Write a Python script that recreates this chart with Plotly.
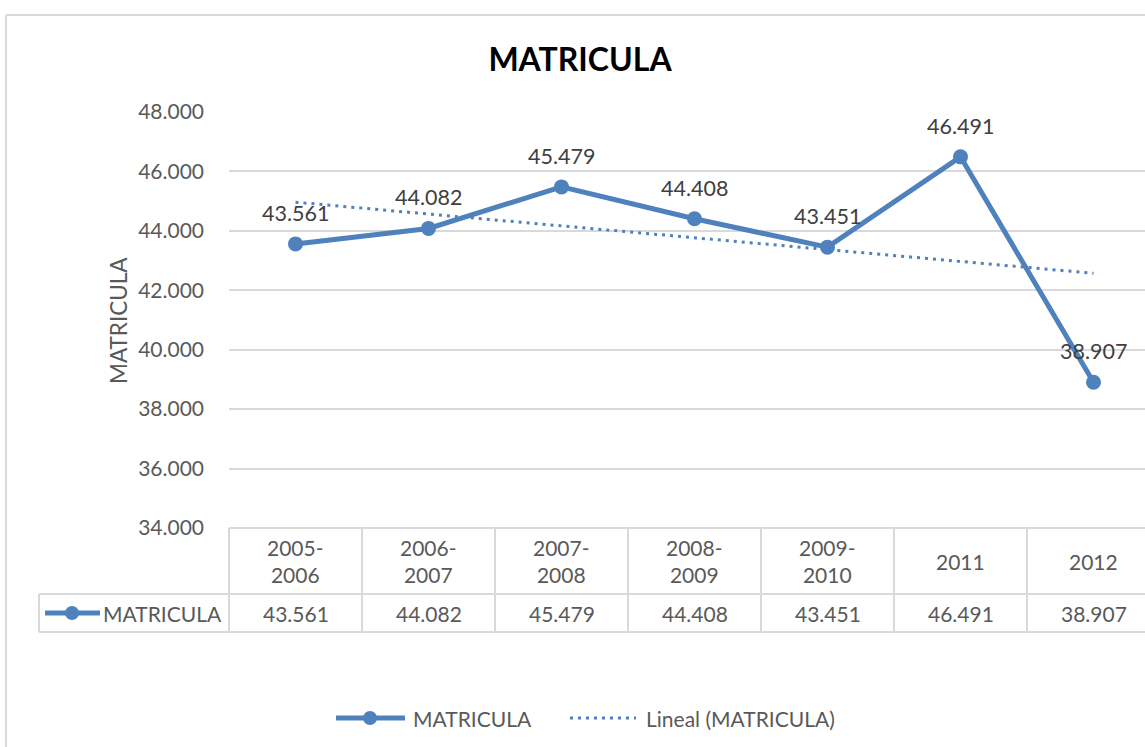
import numpy as np
import plotly.graph_objects as go

categories = ["2005-2006", "2006-2007", "2007-2008", "2008-2009", "2009-2010", "2011", "2012"]
matricula = [43561, 44082, 45479, 44408, 43451, 46491, 38907]
y_ticks = [34000, 36000, 38000, 40000, 42000, 44000, 46000, 48000]
series_name = "MATRICULA"
trend_name = "Lineal (MATRICULA)"

FONT = "Lato"
BLUE = "#4f81bd"
GRID = "#d9d9d9"
TXT = "#595959"
TREND_DASH = "3px,5px"

def fmt(v):
    return f"{v:,}".replace(",", ".")

# layout geometry (pixels)
W, H = 1145, 747
L, R, T, B = 229, 0, 112, 219
PW, PH = W - L - R, H - T - B

def px(xp):  # pixel x -> paper
    return (xp - L) / PW

def py(yp):  # pixel y -> paper
    return (H - B - yp) / PH

idx = np.arange(len(matricula))
slope, intercept = np.polyfit(idx, matricula, 1)
trend = slope * idx + intercept

fig = go.Figure()
fig.add_trace(go.Scatter(
    x=idx, y=trend, mode="lines", name=trend_name,
    line=dict(color=BLUE, width=3, dash=TREND_DASH), showlegend=False, hoverinfo="skip"))
fig.add_trace(go.Scatter(
    x=idx, y=matricula, mode="lines+markers", name=series_name,
    line=dict(color=BLUE, width=5), marker=dict(size=15, color=BLUE),
    showlegend=False, cliponaxis=False,
    customdata=categories, hovertemplate="%{customdata}: %{y}<extra></extra>"))

shapes = []
annotations = []
line_style = dict(color=GRID, width=2)

# data labels
for i, v in enumerate(matricula):
    annotations.append(dict(x=i, y=v, xref="x", yref="y", text=fmt(v), showarrow=False,
                            yanchor="middle", yshift=31,
                            font=dict(family=FONT, size=21.5, color="#404040")))

# data table
for i in range(len(categories) + 1):
    shapes.append(dict(type="line", xref="x", yref="paper", x0=i - 0.5, x1=i - 0.5,
                       y0=py(528), y1=py(632), line=line_style))
shapes.append(dict(type="line", xref="paper", yref="paper", x0=0, x1=1.02,
                   y0=py(528), y1=py(528), line=line_style))
for yy in (594, 632):
    shapes.append(dict(type="line", xref="paper", yref="paper", x0=px(39), x1=1.02,
                       y0=py(yy), y1=py(yy), line=line_style))
shapes.append(dict(type="line", xref="paper", yref="paper", x0=px(39), x1=px(39),
                   y0=py(594), y1=py(632), line=line_style))
shapes.append(dict(type="line", xref="paper", yref="paper", x0=0, x1=0,
                   y0=py(528), y1=py(632), line=line_style))

for i, (c, v) in enumerate(zip(categories, matricula)):
    annotations.append(dict(x=i, y=py(561), xref="x", yref="paper",
                            text=c.replace("-", "-<br>"), showarrow=False,
                            yanchor="middle", align="center",
                            font=dict(family=FONT, size=21, color=TXT)))
    annotations.append(dict(x=i, y=py(613), xref="x", yref="paper", text=fmt(v),
                            showarrow=False, yanchor="middle",
                            font=dict(family=FONT, size=21, color=TXT)))

# legend key inside table
shapes.append(dict(type="line", xref="paper", yref="paper", x0=px(45), x1=px(100),
                   y0=py(613), y1=py(613), line=dict(color=BLUE, width=5)))
shapes.append(dict(type="circle", xref="paper", yref="paper", xsizemode="pixel", ysizemode="pixel",
                   xanchor=px(72), yanchor=py(613), x0=-7, x1=7, y0=-7, y1=7,
                   fillcolor=BLUE, line=dict(color=BLUE, width=0)))
annotations.append(dict(x=px(101), y=py(613), xref="paper", yref="paper", text=series_name,
                        showarrow=False, xanchor="left", yanchor="middle",
                        font=dict(family=FONT, size=21, color=TXT)))

# bottom legend
shapes.append(dict(type="line", xref="paper", yref="paper", x0=px(336), x1=px(405),
                   y0=py(718), y1=py(718), line=dict(color=BLUE, width=5)))
shapes.append(dict(type="circle", xref="paper", yref="paper", xsizemode="pixel", ysizemode="pixel",
                   xanchor=px(370), yanchor=py(718), x0=-7, x1=7, y0=-7, y1=7,
                   fillcolor=BLUE, line=dict(color=BLUE, width=0)))
annotations.append(dict(x=px(411), y=py(718), xref="paper", yref="paper", text=series_name,
                        showarrow=False, xanchor="left", yanchor="middle",
                        font=dict(family=FONT, size=21, color=TXT)))
shapes.append(dict(type="line", xref="paper", yref="paper", x0=px(570), x1=px(636),
                   y0=py(718), y1=py(718), line=dict(color=BLUE, width=3, dash=TREND_DASH)))
annotations.append(dict(x=px(644), y=py(718), xref="paper", yref="paper", text=trend_name,
                        showarrow=False, xanchor="left", yanchor="middle",
                        font=dict(family=FONT, size=21, color=TXT)))

# y axis title
annotations.append(dict(x=px(118), y=py(321), xref="paper", yref="paper", text=series_name,
                        showarrow=False, textangle=-90, xanchor="center", yanchor="middle",
                        font=dict(family=FONT, size=22.5, color=TXT)))

# chart frame
shapes.append(dict(type="line", xref="paper", yref="paper", x0=px(6), x1=px(6),
                   y0=py(15), y1=py(760), line=line_style))
shapes.append(dict(type="line", xref="paper", yref="paper", x0=px(6), x1=1.02,
                   y0=py(15), y1=py(15), line=line_style))

fig.update_layout(
    width=W, height=H,
    margin=dict(l=L, r=R, t=T, b=B, pad=0),
    paper_bgcolor="white", plot_bgcolor="white",
    separators=",.",
    title=dict(text="<b>MATRICULA</b>", x=px(580), xanchor="center",
               y=1 - 60 / H, yanchor="middle", xref="paper",
               font=dict(family=FONT, size=32, color="#000000")),
    xaxis=dict(range=[-0.5, -0.5 + PW / 133], showticklabels=False, showgrid=False,
               zeroline=False, showline=False, ticks=""),
    yaxis=dict(range=[34000, 48000], tickvals=y_ticks, tickformat=",.0f",
               showgrid=True, gridcolor=GRID, gridwidth=2, zeroline=False, showline=False,
               ticks="", ticklabelstandoff=24,
               tickfont=dict(family=FONT, size=21, color=TXT)),
    shapes=shapes, annotations=annotations, showlegend=False,
)

fig.write_html("out.html", config={"displayModeBar": False},
               post_script="document.body.style.margin='0';document.body.style.overflow='hidden';")
